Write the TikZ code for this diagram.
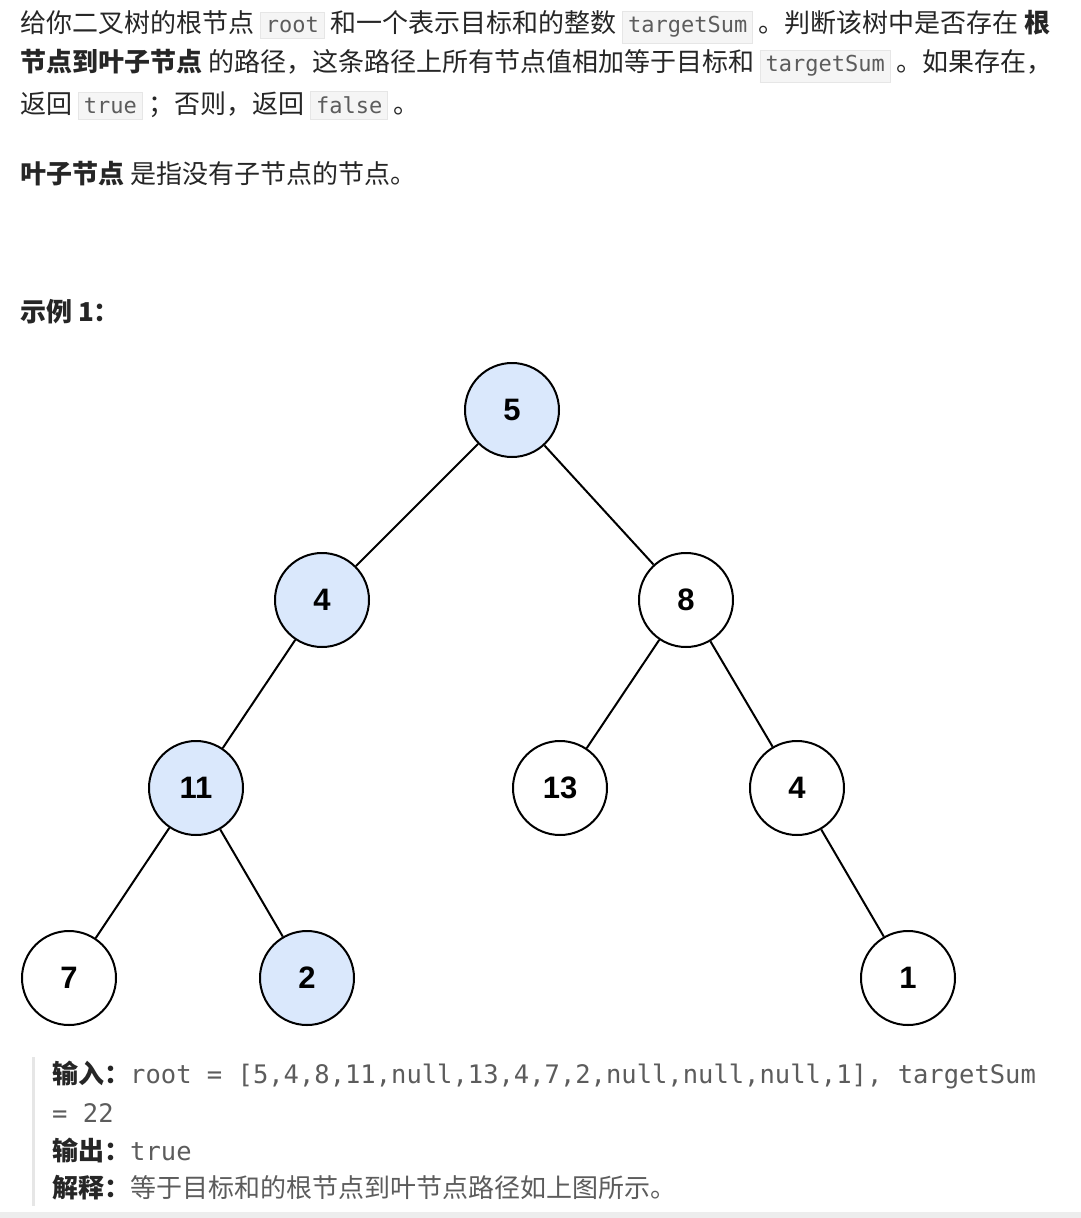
\documentclass[tikz,border=0pt]{standalone}
\usepackage{fontspec}
\setmainfont{Noto Sans CJK SC}
\newfontfamily\numfont{Liberation Sans}
\newfontfamily\codefont{DejaVu Sans Mono}
\definecolor{txt}{HTML}{262626}
\definecolor{codebg}{HTML}{F5F5F5}
\definecolor{codebd}{HTML}{E6E6E6}
\definecolor{blue1}{HTML}{DAE8FC}
\definecolor{gray1}{HTML}{5C5C5C}
\newcommand{\ic}[1]{{\setlength{\fboxsep}{5pt}\setlength{\fboxrule}{0.8pt}\fcolorbox{codebd}{codebg}{\codefont\fontsize{22}{22}\selectfont\textcolor{gray1}{#1}}}}
\tikzset{
  tn/.style={circle,draw=black,line width=2pt,minimum size=94pt,inner sep=0pt,font=\numfont\bfseries\fontsize{31}{31}\selectfont},
  hl/.style={tn,fill=blue1},
  wn/.style={tn,fill=white},
  ln/.style={anchor=west,inner sep=0pt,text=txt,font=\fontsize{26}{26}\selectfont},
  edge/.style={line width=2pt}
}
\begin{document}
\begin{tikzpicture}[x=1pt,y=-1pt]
\useasboundingbox (0,0) rectangle (1081,1218);
\fill[white] (0,0) rectangle (1081,1218);
\node[ln] (l1) at (20,27) {给你二叉树的根节点 \ic{root} 和一个表示目标和的整数 \ic{targetSum} 。判断该树中是否存在 \textbf{根}};
\node[ln] (l2) at (20,66) {\textbf{节点到叶子节点} 的路径，这条路径上所有节点值相加等于目标和 \ic{targetSum} 。如果存在，};
\node[ln] (l3) at (20,105) {返回 \ic{true} ；否则，返回 \ic{false} 。};
\node[ln] (l4) at (20,174) {\textbf{叶子节点} 是指没有子节点的节点。};
\node[ln] (l5) at (20,312) {\textbf{示例 1：}};

\node[hl] (n5) at (512,410) {5};
\node[hl] (n4) at (322,600) {4};
\node[wn] (n8) at (686,600) {8};
\node[hl] (n11) at (196,788) {11};
\node[wn] (n13) at (560,788) {13};
\node[wn] (n4b) at (797,788) {4};
\node[wn] (n7) at (69,978) {7};
\node[hl] (n2) at (307,978) {2};
\node[wn] (n1) at (908,978) {1};
\draw[edge] (n5)--(n4); \draw[edge] (n5)--(n8);
\draw[edge] (n4)--(n11); \draw[edge] (n8)--(n13); \draw[edge] (n8)--(n4b);
\draw[edge] (n11)--(n7); \draw[edge] (n11)--(n2); \draw[edge] (n4b)--(n1);

\fill[codebd] (32,1057) rectangle (35,1206);
\fill[codebd!70] (0,1212) rectangle (1081,1218);
\node[ln] (b1) at (52,1075) {\textbf{输入：}\codefont\fontsize{25.5}{25.5}\selectfont\textcolor{gray1}{root = [5,4,8,11,null,13,4,7,2,null,null,null,1], targetSum}};
\node[ln] (b2) at (52,1113) {\codefont\fontsize{25.5}{25.5}\selectfont\textcolor{gray1}{= 22}};
\node[ln] (b3) at (52,1150) {\textbf{输出：}\codefont\fontsize{25.5}{25.5}\selectfont\textcolor{gray1}{true}};
\node[ln] (b4) at (52,1188) {\textbf{解释：}\textcolor{gray1}{等于目标和的根节点到叶节点路径如上图所示。}};
\end{tikzpicture}
\end{document}
